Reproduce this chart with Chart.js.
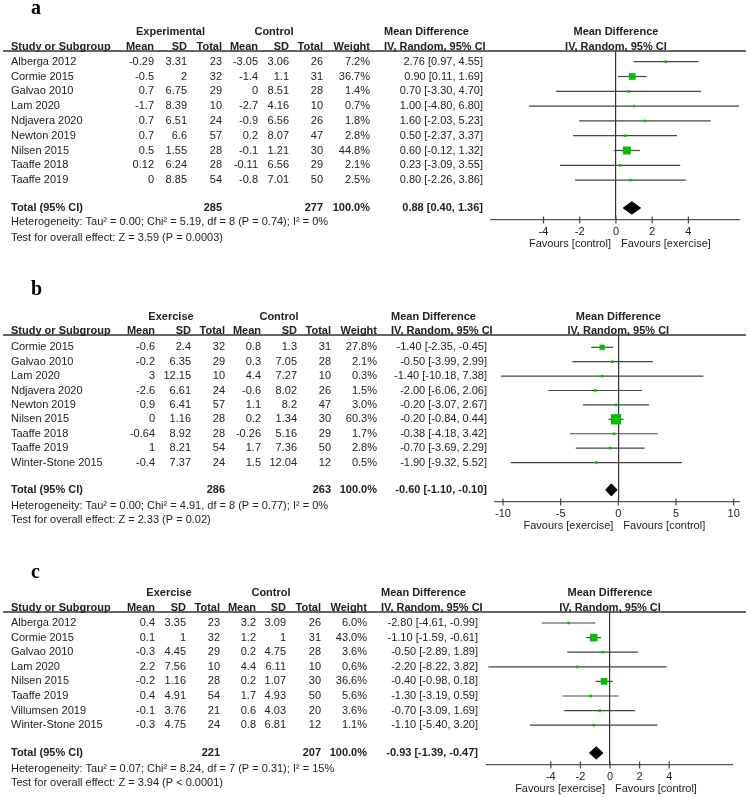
<!DOCTYPE html>
<html>
<head>
<meta charset="utf-8">
<script src="https://cdn.jsdelivr.net/npm/chart.js@4.4.0/dist/chart.umd.min.js"></script>
<style>
  body { margin: 0; background: #fff; }
  .panel { position: absolute; left: 0; width: 750px; }
</style>
</head>
<body>
<div class="panel" style="top:0"><canvas id="chartA" width="750" height="260"></canvas></div>
<div class="panel" style="top:260px"><canvas id="chartB" width="750" height="280"></canvas></div>
<div class="panel" style="top:530px"><canvas id="chartC" width="750" height="267"></canvas></div>
<script>
// ---- panel a ----
const studiesA = ["Alberga 2012", "Cormie 2015", "Galvao 2010", "Lam 2020", "Ndjavera 2020", "Newton 2019", "Nilsen 2015", "Taaffe 2018", "Taaffe 2019"];
const expMeanA = [-0.29, -0.5, 0.7, -1.7, 0.7, 0.7, 0.5, 0.12, 0];
const expSdA = [3.31, 2, 6.75, 8.39, 6.51, 6.6, 1.55, 6.24, 8.85];
const expNA = [23, 32, 29, 10, 24, 57, 28, 28, 54];
const ctlMeanA = [-3.05, -1.4, 0, -2.7, -0.9, 0.2, -0.1, -0.11, -0.8];
const ctlSdA = [3.06, 1.1, 8.51, 4.16, 6.56, 8.07, 1.21, 6.56, 7.01];
const ctlNA = [26, 31, 28, 10, 26, 47, 30, 29, 50];
const weightA = [7.2, 36.7, 1.4, 0.7, 1.8, 2.8, 44.8, 2.1, 2.5];
const mdA = [2.76, 0.90, 0.70, 1.00, 1.60, 0.50, 0.60, 0.23, 0.80];
const loA = [0.97, 0.11, -3.30, -4.80, -2.03, -2.37, -0.12, -3.09, -2.26];
const hiA = [4.55, 1.69, 4.70, 6.80, 5.23, 3.37, 1.32, 3.55, 3.86];
const totalA = [0.88, 0.40, 1.36];
const nTotalA = [285, 277];
const hetA = "Heterogeneity: Tau² = 0.00; Chi² = 5.19, df = 8 (P = 0.74); I² = 0%";
const testA = "Test for overall effect: Z = 3.59 (P = 0.0003)";
const ticksA = [-4, -2, 0, 2, 4];

// ---- panel b ----
const studiesB = ["Cormie 2015", "Galvao 2010", "Lam 2020", "Ndjavera 2020", "Newton 2019", "Nilsen 2015", "Taaffe 2018", "Taaffe 2019", "Winter-Stone 2015"];
const expMeanB = [-0.6, -0.2, 3, -2.6, 0.9, 0, -0.64, 1, -0.4];
const expSdB = [2.4, 6.35, 12.15, 6.61, 6.41, 1.16, 8.92, 8.21, 7.37];
const expNB = [32, 29, 10, 24, 57, 28, 28, 54, 24];
const ctlMeanB = [0.8, 0.3, 4.4, -0.6, 1.1, 0.2, -0.26, 1.7, 1.5];
const ctlSdB = [1.3, 7.05, 7.27, 8.02, 8.2, 1.34, 5.16, 7.36, 12.04];
const ctlNB = [31, 28, 10, 26, 47, 30, 29, 50, 12];
const weightB = [27.8, 2.1, 0.3, 1.5, 3.0, 60.3, 1.7, 2.8, 0.5];
const mdB = [-1.40, -0.50, -1.40, -2.00, -0.20, -0.20, -0.38, -0.70, -1.90];
const loB = [-2.35, -3.99, -10.18, -6.06, -3.07, -0.84, -4.18, -3.69, -9.32];
const hiB = [-0.45, 2.99, 7.38, 2.06, 2.67, 0.44, 3.42, 2.29, 5.52];
const totalB = [-0.60, -1.10, -0.10];
const nTotalB = [286, 263];
const hetB = "Heterogeneity: Tau² = 0.00; Chi² = 4.91, df = 8 (P = 0.77); I² = 0%";
const testB = "Test for overall effect: Z = 2.33 (P = 0.02)";
const ticksB = [-10, -5, 0, 5, 10];

// ---- panel c ----
const studiesC = ["Alberga 2012", "Cormie 2015", "Galvao 2010", "Lam 2020", "Nilsen 2015", "Taaffe 2019", "Villumsen 2019", "Winter-Stone 2015"];
const expMeanC = [0.4, 0.1, -0.3, 2.2, -0.2, 0.4, -0.1, -0.3];
const expSdC = [3.35, 1, 4.45, 7.56, 1.16, 4.91, 3.76, 4.75];
const expNC = [23, 32, 29, 10, 28, 54, 21, 24];
const ctlMeanC = [3.2, 1.2, 0.2, 4.4, 0.2, 1.7, 0.6, 0.8];
const ctlSdC = [3.09, 1, 4.75, 6.11, 1.07, 4.93, 4.03, 6.81];
const ctlNC = [26, 31, 28, 10, 30, 50, 20, 12];
const weightC = [6.0, 43.0, 3.6, 0.6, 36.6, 5.6, 3.6, 1.1];
const mdC = [-2.80, -1.10, -0.50, -2.20, -0.40, -1.30, -0.70, -1.10];
const loC = [-4.61, -1.59, -2.89, -8.22, -0.98, -3.19, -3.09, -5.40];
const hiC = [-0.99, -0.61, 1.89, 3.82, 0.18, 0.59, 1.69, 3.20];
const totalC = [-0.93, -1.39, -0.47];
const nTotalC = [221, 207];
const hetC = "Heterogeneity: Tau² = 0.07; Chi² = 8.24, df = 7 (P = 0.31); I² = 15%";
const testC = "Test for overall effect: Z = 3.94 (P < 0.0001)";
const ticksC = [-4, -2, 0, 2, 4];

const FONT = "'Liberation Sans', Arial, sans-serif";
const SERIF = "'Liberation Serif', 'Times New Roman', serif";
const TEXT = "#222";
const GREEN = "#00c000";
const LINE = "#444";

function ci(m, l, h) {
  return `${m.toFixed(2)} [${l.toFixed(2)}, ${h.toFixed(2)}]`;
}

function boxRadius(w) {
  return Math.max(2.6, 0.155 * w + 1) / Math.SQRT2;
}

function forestPlot(id, d, lay) {
  const tablePlugin = {
    id: "table",
    afterDraw(chart) {
      const ctx = chart.ctx;
      const x = chart.scales.x;
      const y = chart.scales.y;
      const area = chart.chartArea;
      const zero = x.getPixelForValue(0);

      function text(str, px, row, align, bold) {
        ctx.font = (bold ? "bold " : "") + "11px " + FONT;
        ctx.textAlign = align;
        ctx.fillText(str, px, y.getPixelForValue(row));
      }

      ctx.save();
      ctx.fillStyle = "#000";
      ctx.font = "bold 20px " + SERIF;
      ctx.textAlign = "left";
      ctx.textBaseline = "alphabetic";
      ctx.fillText(lay.letter, 31, lay.letterY);

      ctx.strokeStyle = "#333";
      ctx.lineWidth = 1.3;
      ctx.beginPath();
      ctx.moveTo(3, area.top);
      ctx.lineTo(746, area.top);
      ctx.stroke();

      // ticks crossing the axis
      ctx.strokeStyle = LINE;
      ctx.lineWidth = 1.2;
      d.ticks.forEach((v) => {
        const px = x.getPixelForValue(v);
        ctx.beginPath();
        ctx.moveTo(px, area.bottom - 3.5);
        ctx.lineTo(px, area.bottom + 3.5);
        ctx.stroke();
      });

      ctx.fillStyle = TEXT;
      ctx.textBaseline = "middle";
      const c = lay.cols;
      text(d.groupLabel, lay.grp[0], lay.groupRow, "center", true);
      text("Control", lay.grp[1], lay.groupRow, "center", true);
      text("Mean Difference", lay.mdX, lay.groupRow, "left", true);
      text("Mean Difference", zero, lay.groupRow, "center", true);

      text("Study or Subgroup", 11, lay.headRow, "left", true);
      ["Mean", "SD", "Total", "Mean", "SD", "Total", "Weight"].forEach((h, k) => {
        text(h, c[k], lay.headRow, "right", true);
      });
      text("IV, Random, 95% CI", lay.mdX, lay.headRow, "left", true);
      text("IV, Random, 95% CI", zero, lay.headRow, "center", true);

      d.studies.forEach((s, i) => {
        text(s, 11, i, "left", false);
        text(String(d.expMean[i]), c[0], i, "right", false);
        text(String(d.expSd[i]), c[1], i, "right", false);
        text(String(d.expN[i]), c[2], i, "right", false);
        text(String(d.ctlMean[i]), c[3], i, "right", false);
        text(String(d.ctlSd[i]), c[4], i, "right", false);
        text(String(d.ctlN[i]), c[5], i, "right", false);
        text(d.weight[i].toFixed(1) + "%", c[6], i, "right", false);
        text(ci(d.md[i], d.lo[i], d.hi[i]), lay.ciX, i, "right", false);
      });

      text("Total (95% CI)", 11, lay.totalRow, "left", true);
      text(String(d.nTotal[0]), c[2], lay.totalRow, "right", true);
      text(String(d.nTotal[1]), c[5], lay.totalRow, "right", true);
      text("100.0%", c[6], lay.totalRow, "right", true);
      text(ci(d.total[0], d.total[1], d.total[2]), lay.ciX, lay.totalRow, "right", true);

      text(d.het, 11, lay.hetRow, "left", false);
      text(d.test, 11, lay.testRow, "left", false);

      ctx.font = "11px " + FONT;
      ctx.textAlign = "right";
      ctx.fillText(d.favours[0], zero - 5, area.bottom + 24);
      ctx.textAlign = "left";
      ctx.fillText(d.favours[1], zero + 5, area.bottom + 24);
      ctx.restore();
    },
  };

  const ciLines = d.studies.map((s, i) => ({
    type: "scatter",
    showLine: true,
    data: [{ x: d.lo[i], y: i }, { x: d.hi[i], y: i }],
    borderColor: LINE,
    borderWidth: 1.2,
    pointRadius: 0,
    order: 2,
  }));

  const t = d.total;
  const tr = lay.totalRow;
  const h = 0.42;

  new Chart(document.getElementById(id), {
    type: "scatter",
    data: {
      datasets: [
        {
          data: d.md.map((m, i) => ({ x: m, y: i })),
          pointStyle: "rect",
          pointRadius: d.weight.map(boxRadius),
          backgroundColor: GREEN,
          borderColor: GREEN,
          borderWidth: 0,
          order: 0,
        },
        {
          showLine: true,
          fill: "shape",
          data: [
            { x: t[1], y: tr },
            { x: t[0], y: tr - h },
            { x: t[2], y: tr },
            { x: t[0], y: tr + h },
            { x: t[1], y: tr },
          ],
          backgroundColor: "#000",
          borderColor: "#000",
          borderWidth: 1,
          pointRadius: 0,
          order: 0,
        },
        ...ciLines,
      ],
    },
    options: {
      responsive: false,
      animation: false,
      events: [],
      layout: {
        autoPadding: false,
        padding: {
          left: lay.left,
          right: 750 - lay.right,
          top: lay.top,
          bottom: lay.H - lay.bottom - 20,
        },
      },
      plugins: {
        legend: { display: false },
        tooltip: { enabled: false },
      },
      scales: {
        x: {
          type: "linear",
          min: lay.xMin,
          max: lay.xMax,
          offset: false,
          beginAtZero: false,
          afterBuildTicks: (s) => {
            s.ticks = d.ticks.map((v) => ({ value: v }));
          },
          afterFit: (s) => {
            s.height = 20;
          },
          grid: {
            color: (c) => (c.tick && c.tick.value === 0 ? "#333" : "rgba(0,0,0,0)"),
            lineWidth: 1.2,
            drawTicks: false,
          },
          border: { color: "#555", width: 1.3 },
          ticks: {
            color: TEXT,
            font: { family: FONT, size: 11 },
            padding: 5,
            maxRotation: 0,
            autoSkip: false,
            callback: (v) => String(v),
          },
        },
        y: {
          type: "linear",
          display: false,
          reverse: true,
          min: lay.yMin,
          max: lay.yMax,
          offset: false,
        },
      },
    },
    plugins: [tablePlugin],
  });
}

forestPlot("chartA", {
  studies: studiesA, expMean: expMeanA, expSd: expSdA, expN: expNA,
  ctlMean: ctlMeanA, ctlSd: ctlSdA, ctlN: ctlNA, weight: weightA,
  md: mdA, lo: loA, hi: hiA, total: totalA, nTotal: nTotalA,
  het: hetA, test: testA, ticks: ticksA, groupLabel: "Experimental",
  favours: ["Favours [control]", "Favours [exercise]"],
}, {
  letter: "a", letterY: 14, H: 260, top: 51, bottom: 220, left: 491, right: 740,
  xMin: -6.9, xMax: 6.85, yMin: -0.723, yMax: 10.696,
  cols: [154, 187, 222, 258, 289, 323, 370], grp: [170.5, 274], ciX: 483, mdX: 384,
  groupRow: -2, headRow: -1, totalRow: 9.88, hetRow: 10.86, testRow: 11.91,
});

forestPlot("chartB", {
  studies: studiesB, expMean: expMeanB, expSd: expSdB, expN: expNB,
  ctlMean: ctlMeanB, ctlSd: ctlSdB, ctlN: ctlNB, weight: weightB,
  md: mdB, lo: loB, hi: hiB, total: totalB, nTotal: nTotalB,
  het: hetB, test: testB, ticks: ticksB, groupLabel: "Exercise",
  favours: ["Favours [exercise]", "Favours [control]"],
}, {
  letter: "b", letterY: 35, H: 280, top: 75, bottom: 242, left: 495, right: 740,
  xMin: -10.69, xMax: 10.55, yMin: -0.854, yMax: 10.74,
  cols: [155, 191, 225, 261, 297, 331, 377], grp: [171, 279], ciX: 487, mdX: 391,
  groupRow: -2.1, headRow: -1.13, totalRow: 9.9, hetRow: 11.0, testRow: 12.0,
});

forestPlot("chartC", {
  studies: studiesC, expMean: expMeanC, expSd: expSdC, expN: expNC,
  ctlMean: ctlMeanC, ctlSd: ctlSdC, ctlN: ctlNC, weight: weightC,
  md: mdC, lo: loC, hi: hiC, total: totalC, nTotal: nTotalC,
  het: hetC, test: testC, ticks: ticksC, groupLabel: "Exercise",
  favours: ["Favours [exercise]", "Favours [control]"],
}, {
  letter: "c", letterY: 48, H: 267, top: 82, bottom: 235, left: 487, right: 733,
  xMin: -8.31, xMax: 8.31, yMin: -0.753, yMax: 9.726,
  cols: [155, 186, 220, 256, 286, 321, 367], grp: [169, 271], ciX: 478, mdX: 381,
  groupRow: -2.05, headRow: -1.03, totalRow: 8.9, hetRow: 10.0, testRow: 10.96,
});
</script>
</body>
</html>
